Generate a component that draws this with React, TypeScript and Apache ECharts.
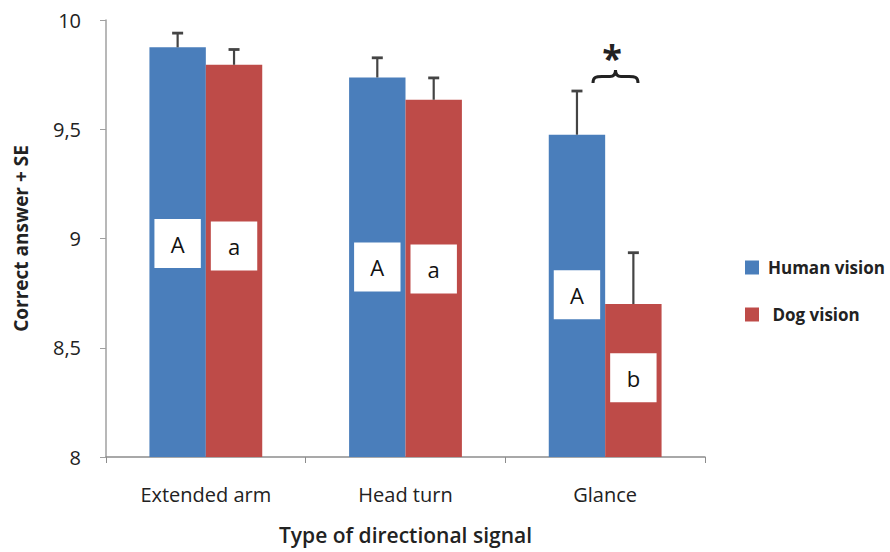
import React, { useEffect, useRef } from "react";
import * as echarts from "echarts";

const categories = ["Extended arm", "Head turn", "Glance"];
const seriesNames = ["Human vision", "Dog vision"];
const humanValues = [9.875, 9.737, 9.475];
const dogValues = [9.795, 9.635, 8.7];
const humanSE = [0.065, 0.09, 0.2];
const dogSE = [0.07, 0.1, 0.235];
const humanLetters = ["A", "A", "A"];
const dogLetters = ["a", "a", "b"];
const humanLetterY = [8.977, 8.87, 8.742];
const dogLetterY = [8.966, 8.86, 8.363];
const yMin = 8;
const yMax = 10;
const yInterval = 0.5;

const BLUE = "#4a7ebb";
const RED = "#be4b48";
const CAT_GAP = 0.435;
const FONT = "'Open Sans', 'Noto Sans', sans-serif";

const bracePath =
  "M0,13 C0,7 3,6.5 9,6.5 L17,6.5 C20,6.5 22.5,5 22.5,0 C22.5,5 25,6.5 28,6.5 L36,6.5 C42,6.5 45,7 45,13";
echarts.graphic.registerShape("brace", echarts.graphic.extendPath(bracePath, {}));

export default function App() {
  const ref = useRef<HTMLDivElement>(null);

  useEffect(() => {
    if (!ref.current) return;
    const chart = echarts.init(ref.current, null, { renderer: "svg" });

    const errData: number[][] = [];
    categories.forEach((_, i) => {
      errData.push([i, humanValues[i], humanSE[i], 0]);
      errData.push([i, dogValues[i], dogSE[i], 1]);
    });
    const letterData: number[][] = [];
    const letterText: string[] = [];
    categories.forEach((_, i) => {
      letterData.push([i, humanLetterY[i], 0]);
      letterText.push(humanLetters[i]);
      letterData.push([i, dogLetterY[i], 1]);
      letterText.push(dogLetters[i]);
    });

    const barX = (api: any, cat: number, v: number, side: number) => {
      const band = api.size([1, 0])[0];
      const bw = (band * (1 - CAT_GAP)) / 2;
      const c = api.coord([cat, v]);
      return { x: c[0] + (side === 0 ? -bw / 2 : bw / 2), y: c[1], bw };
    };

    chart.setOption({
      animation: false,
      textStyle: { fontFamily: FONT },
      grid: { left: 106, right: 185, top: 20, bottom: 95 },
      legend: {
        data: seriesNames,
        orient: "vertical",
        left: 740,
        top: 254,
        itemWidth: 14,
        itemHeight: 14,
        itemGap: 30,
        icon: "rect",
        formatter: (n: string) => (n === "Dog vision" ? " Dog vision" : n),
        textStyle: { fontSize: 17, fontWeight: "bold", color: "#222", fontFamily: FONT, padding: [0, 0, 0, 4] },
      },
      xAxis: {
        type: "category",
        data: categories,
        name: "Type of directional signal",
        nameLocation: "middle",
        nameGap: 67,
        nameTextStyle: { fontSize: 21, fontWeight: 600, color: "#222", fontFamily: FONT },
        axisLine: { lineStyle: { color: "#8c8c8c", width: 1.5 } },
        axisTick: { show: true, length: 6, lineStyle: { color: "#8c8c8c" } },
        axisLabel: { fontSize: 20, color: "#222", margin: 27, fontFamily: FONT },
      },
      yAxis: {
        type: "value",
        min: yMin,
        max: yMax,
        interval: yInterval,
        name: "Correct answer + SE",
        nameLocation: "middle",
        nameGap: 76,
        nameRotate: 90,
        nameTextStyle: { fontSize: 19, fontWeight: "bold", color: "#222", fontFamily: FONT },
        axisLine: { show: true, lineStyle: { color: "#a0a0a0", width: 1.5 } },
        axisTick: { show: true, length: 6, lineStyle: { color: "#a0a0a0" } },
        splitLine: { show: false },
        axisLabel: {
          fontSize: 20,
          color: "#222",
          margin: 25,
          fontFamily: FONT,
          formatter: (v: number) => String(v).replace(".", ","),
        },
      },
      series: [
        {
          name: seriesNames[0],
          type: "bar",
          data: humanValues,
          itemStyle: { color: BLUE },
          barGap: "0%",
          barCategoryGap: CAT_GAP * 100 + "%",
        },
        {
          name: seriesNames[1],
          type: "bar",
          data: dogValues,
          itemStyle: { color: RED },
        },
        {
          type: "custom",
          z: 5,
          data: errData,
          encode: { x: 0, y: 1 },
          renderItem: (params: any, api: any) => {
            const cat = api.value(0);
            const v = api.value(1);
            const se = api.value(2);
            const side = api.value(3);
            const p = barX(api, cat, v, side);
            const top = api.coord([cat, v + se])[1];
            return {
              type: "group",
              children: [
                { type: "line", shape: { x1: p.x, y1: p.y, x2: p.x, y2: top }, style: { stroke: "#444", lineWidth: 2.2 } },
                { type: "line", shape: { x1: p.x - 5.5, y1: top, x2: p.x + 5.5, y2: top }, style: { stroke: "#444", lineWidth: 2.8 } },
              ],
            };
          },
        },
        {
          type: "custom",
          z: 6,
          data: letterData,
          encode: { x: 0, y: 1 },
          renderItem: (params: any, api: any) => {
            const cat = api.value(0);
            const v = api.value(1);
            const side = api.value(2);
            const p = barX(api, cat, v, side);
            const w = p.bw - 10;
            const h = 49;
            return {
              type: "group",
              children: [
                { type: "rect", shape: { x: p.x - w / 2, y: p.y - h / 2, width: w, height: h }, style: { fill: "#ffffff" } },
                {
                  type: "text",
                  x: p.x,
                  y: p.y,
                  style: {
                    text: letterText[params.dataIndex],
                    align: "center",
                    verticalAlign: "middle",
                    fontSize: 22,
                    fill: "#111",
                    fontFamily: FONT,
                  },
                },
              ],
            };
          },
        },
      ],
      graphic: [
        {
          type: "text",
          x: 612,
          y: 57,
          style: { text: "*", align: "center", verticalAlign: "middle", fontSize: 36, fontWeight: "bold", fill: "#222", fontFamily: FONT },
        },
        {
          type: "brace",
          x: 593,
          y: 70,
          style: { fill: "none", stroke: "#222", lineWidth: 3 },
        },
      ],
    });

    return () => chart.dispose();
  }, []);

  return <div ref={ref} style={{ position: "fixed", left: 0, top: 0, width: 890, height: 552, background: "#fff" }} />;
}
